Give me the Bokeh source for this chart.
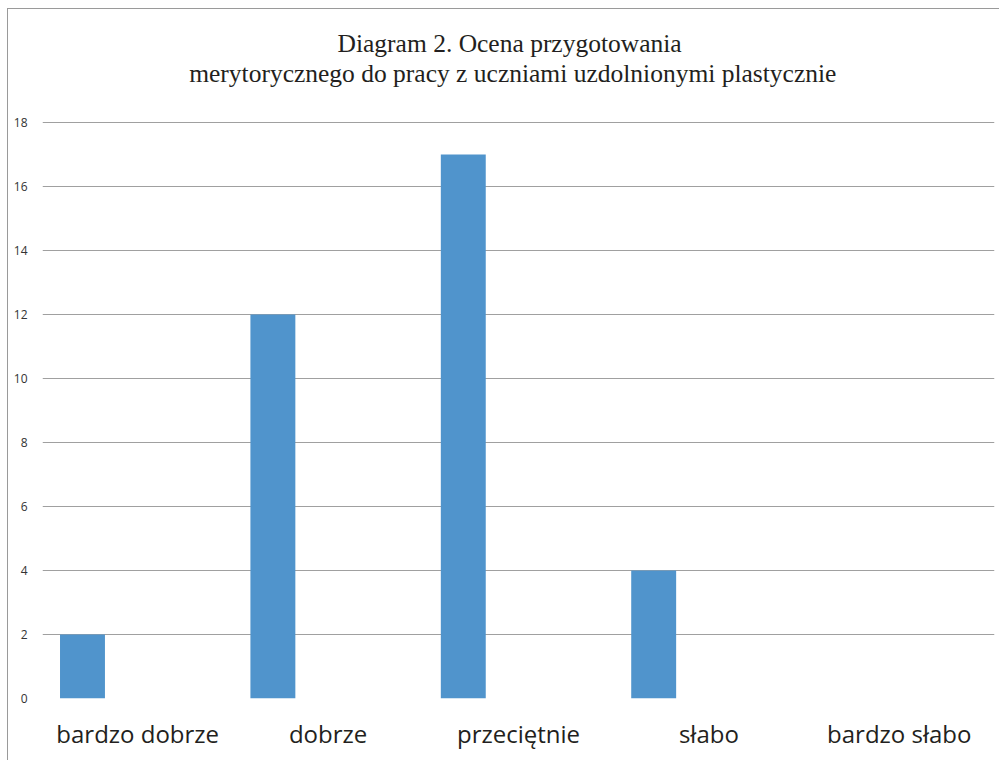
from bokeh.plotting import figure
from bokeh.models import ColumnDataSource, FixedTicker, Range1d, FactorRange
from bokeh.core.properties import value
from bokeh.transform import dodge
from bokeh.embed import file_html
from bokeh.resources import INLINE

categories = ["bardzo dobrze", "dobrze", "przeciętnie", "słabo", "bardzo słabo"]
values = [2, 12, 17, 4, 0]
y_ticks = [0, 2, 4, 6, 8, 10, 12, 14, 16, 18]
title_lines = ["Diagram  2. Ocena przygotowania",
               "merytorycznego do pracy z uczniami uzdolnionymi plastycznie"]

source = ColumnDataSource(data=dict(cat=categories, val=values))

p = figure(
    x_range=FactorRange(*categories, range_padding=0),
    y_range=Range1d(0, 21.53),
    width=992, height=752,
    output_backend="svg", toolbar_location=None, title=None,
    min_border_left=34, min_border_right=6, min_border_top=0, min_border_bottom=63,
)
p.styles = {"margin-left": "7px", "margin-top": "8px",
            "border-left": "1px solid #9a9a9a", "border-top": "1px solid #9a9a9a"}
p.outline_line_color = None
p.background_fill_color = "white"
p.border_fill_color = "white"

p.vbar(x=dodge("cat", -0.29, range=p.x_range), top="val", width=0.236,
       source=source, fill_color="#5094cc", line_color=None)

# chart title drawn inside the (extended) frame area above the top gridline
title_src = ColumnDataSource(data=dict(x=[categories[2], categories[2]],
                                       y=[20.47, 19.52], t=title_lines))
p.text(x=dodge("x", -0.03, range=p.x_range), y="y", text="t", source=title_src,
       text_align="center", text_baseline="alphabetic",
       text_font=value("Liberation Serif"), text_font_size="25.5px", text_color="#231f20")

p.yaxis.ticker = FixedTicker(ticks=y_ticks)
p.yaxis.axis_line_color = None
p.yaxis.major_tick_line_color = None
p.yaxis.minor_tick_line_color = None
p.yaxis.major_label_text_font = "Open Sans"
p.yaxis.major_label_text_font_size = "12px"
p.yaxis.major_label_text_color = "#333333"
p.yaxis.major_label_standoff = 9

p.xaxis.axis_line_color = None
p.xaxis.major_tick_line_color = None
p.xaxis.minor_tick_line_color = None
p.xaxis.major_label_text_font = "Open Sans"
p.xaxis.major_label_text_font_size = "24px"
p.xaxis.major_label_text_color = "#231f20"
p.xaxis.major_label_standoff = 12

p.xgrid.grid_line_color = None
p.ygrid.grid_line_color = "#a0a0a0"
p.ygrid.grid_line_width = 1

open("out.html", "w").write(file_html(p, INLINE))
